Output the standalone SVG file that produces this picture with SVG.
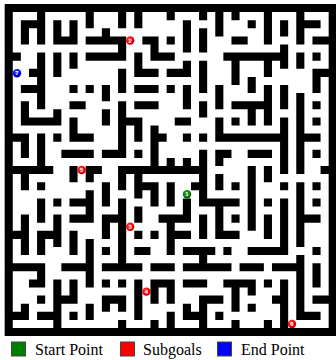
<svg xmlns="http://www.w3.org/2000/svg" width="336" height="360" viewBox="0 0 336 360">
<style>
.wall{fill:#000}
.num{font-family:"Liberation Sans",Arial,sans-serif;font-size:6px;fill:#fff;text-anchor:middle;font-weight:bold}
.lg{font-family:"Liberation Serif","Times New Roman",serif;font-size:16px;fill:#000}
.sw{stroke:#444;stroke-width:1}
</style>
<defs>
<radialGradient id="r" cx="0.4" cy="0.35" r="0.7"><stop offset="0" stop-color="#ff5050"/><stop offset="0.6" stop-color="#f00000"/><stop offset="1" stop-color="#b00000"/></radialGradient>
<radialGradient id="g" cx="0.4" cy="0.35" r="0.7"><stop offset="0" stop-color="#30a030"/><stop offset="0.6" stop-color="#008000"/><stop offset="1" stop-color="#005000"/></radialGradient>
<radialGradient id="b" cx="0.4" cy="0.35" r="0.7"><stop offset="0" stop-color="#5050ff"/><stop offset="0.6" stop-color="#0000f0"/><stop offset="1" stop-color="#0000a0"/></radialGradient>
</defs>
<rect width="336" height="360" fill="#fff"/>
<g id="maze" transform="translate(4.67,4) scale(8.1)">
<path class="wall" fill-rule="nonzero" d="M0 0h41v1h-41zM0 40h41v1h-41zM0 0h1v41h-1zM40 0h1v41h-1z
M1 6h1v1h-1zM2 2h1v3h-1zM2 2h3v1h-3zM4 1h1v4h-1zM6 2h1v3h-1zM6 4h3v1h-3zM8 2h1v3h-1zM10 1h1v2h-1zM10 4h5v1h-5zM12 3h1v1h-1zM14 4h1v3h-1zM10 6h5v1h-5zM14 1h1v2h-1zM16 1h1v2h-1zM17 4h2v1h-2zM18 4h1v3h-1zM18 6h3v1h-3zM20 4h1v1h-1zM20 1h1v1h-1zM4 6h1v7h-1zM3 8h1v1h-1zM2 10h2v1h-2zM6 6h1v3h-1zM8 6h1v2h-1zM14 8h1v3h-1zM16 6h1v3h-1zM16 8h3v1h-3zM16 10h3v1h-3zM16 12h3v1h-3zM8 10h1v1h-1zM10 10h1v1h-1zM12 10h1v2h-1zM8 12h2v1h-2zM2 12h1v3h-1zM2 14h5v1h-5zM6 13h1v2h-1zM12 13h1v2h-1zM8 14h1v3h-1zM8 16h3v1h-3zM14 12h1v7h-1zM15 14h2v1h-2zM16 14h1v3h-1zM18 15h1v6h-1zM19 16h1v1h-1zM1 16h2v1h-2zM2 16h1v3h-1zM4 16h1v5h-1zM6 16h1v1h-1zM7 18h4v1h-4zM12 18h3v1h-3zM16 18h1v1h-1zM0 20h6v1h-6zM8 20h1v1h-1zM10 20h2v1h-2zM14 20h11v1h-11z
M2 20h1v3h-1zM8 20h1v2h-1zM10 20h1v2h-1zM14 20h1v3h-1zM16 20h1v4h-1zM17 22h2v1h-2zM18 22h1v3h-1zM20 22h1v3h-1zM4 22h1v1h-1zM12 22h1v3h-1zM10 23h1v4h-1zM8 24h2v1h-2zM8 26h2v1h-2zM6 24h1v1h-1zM4 24h1v3h-1zM14 24h1v5h-1zM12 26h2v1h-2zM12 26h1v3h-1zM16 25h1v2h-1zM19 26h4v1h-4zM20 26h1v5h-1zM2 26h1v5h-1zM1 28h2v1h-2zM6 26h1v4h-1zM4 28h3v1h-3zM4 28h1v3h-1zM8 28h1v3h-1zM10 29h1v6h-1zM7 32h4v1h-4zM12 30h1v1h-1zM14 29h1v4h-1zM12 32h5v1h-5zM16 28h1v1h-1zM18 28h1v1h-1zM16 30h2v1h-2zM1 32h4v1h-4zM4 32h1v3h-1zM3 34h2v1h-2zM18 32h3v1h-3zM6 34h1v6h-1zM8 34h1v3h-1zM7 36h2v1h-2zM12 34h1v1h-1zM14 34h1v1h-1zM16 34h1v5h-1zM18 34h3v1h-3zM18 34h1v3h-1zM20 34h1v3h-1zM4 36h1v1h-1zM2 37h1v2h-1zM1 38h2v1h-2zM4 38h3v1h-3zM8 38h1v1h-1zM10 37h1v2h-1zM12 36h3v1h-3zM12 36h1v2h-1zM14 36h1v2h-1zM14 39h1v1h-1zM18 39h1v1h-1zM20 38h1v2h-1z
M24 1h1v1h-1zM26 1h1v3h-1zM28 1h1v1h-1zM32 1h1v4h-1zM36 1h1v4h-1zM37 2h2v1h-2zM22 2h1v4h-1zM24 3h1v3h-1zM30 2h1v1h-1zM34 2h1v2h-1zM28 4h2v1h-2zM38 4h3v1h-3zM27 6h8v1h-8zM34 5h1v3h-1zM28 6h1v4h-1zM32 6h1v3h-1zM36 6h1v2h-1zM38 6h1v1h-1zM22 7h1v2h-1zM20 8h3v1h-3zM24 7h1v4h-1zM38 8h3v1h-3zM38 8h1v3h-1zM30 9h1v2h-1zM20 10h1v1h-1zM22 10h1v3h-1zM26 10h1v3h-1zM32 10h1v5h-1zM34 10h1v3h-1zM36 11h1v10h-1zM24 12h1v2h-1zM28 12h5v1h-5zM30 12h1v3h-1zM38 12h1v1h-1zM21 14h2v1h-2zM26 14h1v3h-1zM28 14h1v1h-1zM34 14h1v7h-1zM38 14h1v1h-1zM22 16h1v1h-1zM24 16h1v1h-1zM26 16h9v1h-9zM36 16h3v1h-3zM24 18h1v3h-1zM26 18h2v1h-2zM26 18h1v2h-1zM30 18h3v1h-3zM38 18h1v1h-1zM20 19h1v2h-1zM22 19h1v2h-1zM30 20h1v1h-1zM32 20h1v2h-1zM34 20h1v1h-1zM36 20h1v1h-1zM39 20h2v1h-2z
M24 20h1v5h-1zM23 22h1v1h-1zM24 24h5v1h-5zM22 24h1v3h-1zM26 21h1v2h-1zM26 24h1v5h-1zM26 28h3v1h-3zM28 22h1v1h-1zM30 20h1v8h-1zM34 22h1v1h-1zM36 22h1v8h-1zM38 22h1v1h-1zM38 24h1v1h-1zM32 24h1v1h-1zM34 24h1v7h-1zM30 30h5v1h-5zM37 26h2v1h-2zM24 26h1v3h-1zM28 26h1v1h-1zM32 26h1v3h-1zM21 28h2v1h-2zM22 30h4v1h-4zM24 31h1v1h-1zM22 32h6v1h-6zM29 32h3v1h-3zM33 32h4v1h-4zM36 31h1v8h-1zM36 38h3v1h-3zM27 30h1v1h-1zM38 30h1v1h-1zM38 32h1v3h-1zM22 34h3v1h-3zM27 34h4v1h-4zM30 34h1v2h-1zM28 34h1v4h-1zM32 34h1v1h-1zM34 34h1v6h-1zM33 36h1v1h-1zM24 36h3v1h-3zM24 36h1v4h-1zM22 37h1v2h-1zM22 38h3v1h-3zM30 37h1v1h-1zM26 38h1v1h-1zM28 39h1v1h-1zM32 39h1v1h-1zM38 36h3v1h-3z"/>
</g>
<g id="start"><circle cx="187" cy="194.3" r="4.2" fill="url(#g)"/><text class="num" x="187" y="196.4">1</text></g>
<g id="goal2"><circle cx="130.2" cy="40.5" r="4.2" fill="url(#r)"/><text class="num" x="130.2" y="42.6">2</text></g>
<g id="goal3"><circle cx="130.2" cy="226.8" r="4.2" fill="url(#r)"/><text class="num" x="130.2" y="228.9">3</text></g>
<g id="goal4"><circle cx="146.4" cy="291.6" r="4.2" fill="url(#r)"/><text class="num" x="146.4" y="293.7">4</text></g>
<g id="goal5"><circle cx="81.6" cy="170" r="4.2" fill="url(#r)"/><text class="num" x="81.6" y="172.1">5</text></g>
<g id="goal6"><circle cx="292" cy="324" r="4.2" fill="url(#r)"/><text class="num" x="292" y="326.1">6</text></g>
<g id="end"><circle cx="17" cy="73.3" r="4.2" fill="url(#b)"/><text class="num" x="17" y="75.4">7</text></g>
<g id="legend">
<rect class="sw" x="11.5" y="342" width="14" height="14" fill="#008000"/><text class="lg" x="35" y="355">Start Point</text>
<rect class="sw" x="120.5" y="342" width="14" height="14" fill="#f00"/><text class="lg" x="143" y="355">Subgoals</text>
<rect class="sw" x="217.5" y="342" width="14" height="14" fill="#00f"/><text class="lg" x="241" y="355">End Point</text>
</g>
</svg>
